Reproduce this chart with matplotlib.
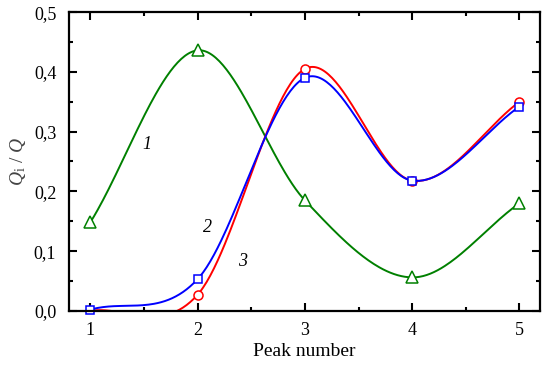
import matplotlib
matplotlib.use("Agg")
import matplotlib.pyplot as plt
from matplotlib.ticker import MultipleLocator, FuncFormatter
import numpy as np

# data
peaks = [1, 2, 3, 4, 5]
curve1 = [0.148, 0.436, 0.185, 0.056, 0.180]   # green, triangles
curve2 = [0.002, 0.053, 0.390, 0.218, 0.342]   # blue, squares
curve3 = [0.000, 0.027, 0.405, 0.218, 0.350]   # red, circles


def smooth(x, y, n=60):
    """catmull-rom type spline through the points"""
    x = np.asarray(x, float)
    y = np.asarray(y, float)
    k = len(x)
    m = np.empty(k)
    m[0] = (y[1] - y[0]) / (x[1] - x[0])
    m[-1] = (y[-1] - y[-2]) / (x[-1] - x[-2])
    m[1:-1] = (y[2:] - y[:-2]) / (x[2:] - x[:-2])
    xs, ys = [], []
    for i in range(k - 1):
        h = x[i + 1] - x[i]
        t = np.linspace(0, 1, n)
        h00 = 2 * t ** 3 - 3 * t ** 2 + 1
        h10 = t ** 3 - 2 * t ** 2 + t
        h01 = -2 * t ** 3 + 3 * t ** 2
        h11 = t ** 3 - t ** 2
        xs.append(x[i] + t * h)
        ys.append(h00 * y[i] + h10 * h * m[i] + h01 * y[i + 1] + h11 * h * m[i + 1])
    return np.concatenate(xs), np.concatenate(ys)


plt.rcParams["font.family"] = "Liberation Serif"
plt.rcParams["mathtext.fontset"] = "custom"
plt.rcParams["mathtext.it"] = "Liberation Serif:italic"
plt.rcParams["mathtext.rm"] = "Liberation Serif"

fig = plt.figure(figsize=(5.42, 3.67), dpi=100)
ax = fig.add_axes([0.127, 0.153, 0.869, 0.814])

series = [
    (curve1, "#008000", "^", 8, None),
    (curve3, "#ff0000", "o", 6.5, [1, 2, 3, 4]),
    (curve2, "#0000ff", "s", 6, None),
]
for vals, col, mk, ms, every in series:
    xs, ys = smooth(peaks, vals)
    ax.plot(xs, ys, color=col, lw=1.4)
    ax.plot(peaks, vals, linestyle="none", marker=mk, ms=ms, markevery=every,
            mfc="white", mec=col, mew=1.1, clip_on=False)

ax.text(1.53, 0.278, "1", fontsize=13, style="italic", ha="center", va="center")
ax.text(2.09, 0.139, "2", fontsize=13, style="italic", ha="center", va="center")
ax.text(2.42, 0.082, "3", fontsize=13, style="italic", ha="center", va="center")

ax.set_xlim(0.8, 5.19)
ax.set_ylim(0, 0.5)
ax.xaxis.set_major_locator(MultipleLocator(1))
ax.xaxis.set_minor_locator(MultipleLocator(0.5))
ax.yaxis.set_major_locator(MultipleLocator(0.1))
ax.yaxis.set_minor_locator(MultipleLocator(0.05))
ax.yaxis.set_major_formatter(FuncFormatter(lambda v, p: f"{v:.1f}".replace(".", ",")))
ax.tick_params(which="both", direction="in", top=True, right=True, width=1.5,
               labelsize=13)
ax.tick_params(which="major", length=6)
ax.tick_params(which="minor", length=3)
ax.tick_params(axis="x", pad=8)
ax.tick_params(axis="y", pad=9)
for s in ax.spines.values():
    s.set_linewidth(1.6)

ax.set_xlabel("Peak number", fontsize=14, labelpad=3)
ax.set_ylabel(r"$Q_{\mathrm{i}}$ / $Q$", fontsize=14, color="#444444", labelpad=4)

fig.savefig("out.png", dpi=100)
